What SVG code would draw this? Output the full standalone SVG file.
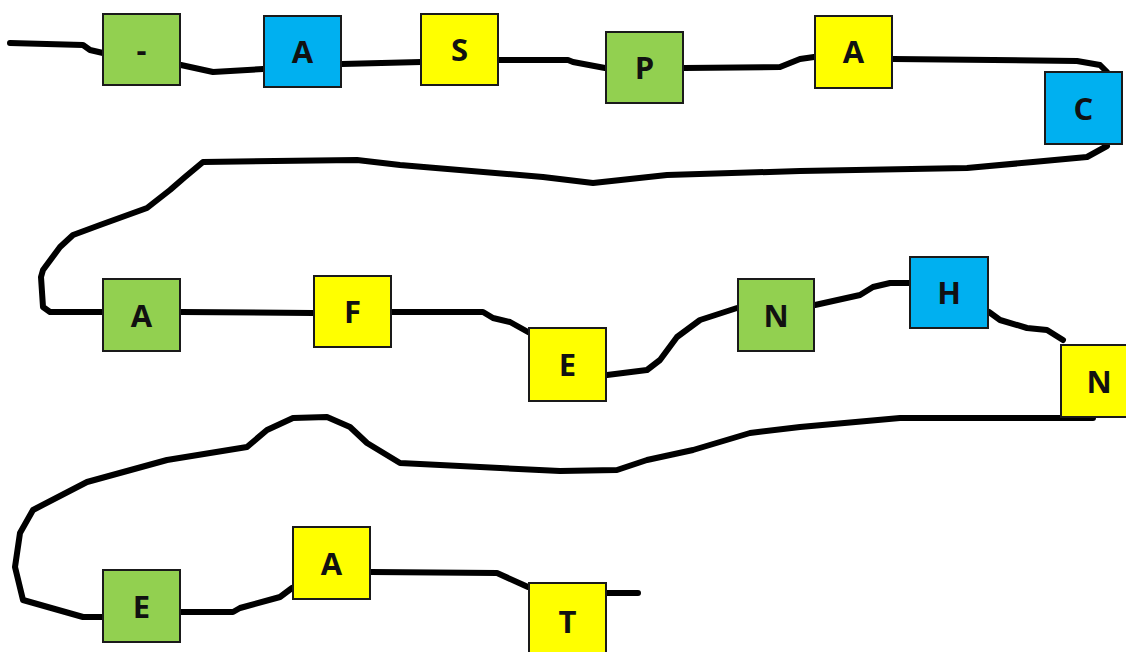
<svg xmlns="http://www.w3.org/2000/svg" width="1126" height="652" viewBox="0 0 1126 652">
<style>
.wire{fill:none;stroke:#000;stroke-width:6;stroke-linecap:round;stroke-linejoin:round}
.box{stroke:#1a1a1a;stroke-width:2}
.g{fill:#92d050}.b{fill:#00b0f0}.y{fill:#ffff00}
.t{font-family:"Open Sans","Liberation Sans",sans-serif;font-weight:bold;font-size:31px;fill:#111;text-anchor:middle}
</style>
<rect width="1126" height="652" fill="#fff"/>
<g id="connectors">
<path class="wire" d="M10,43 L83,45 L90,50 L103,53 M181,65 L213,72 L263,69 M342,64 L421,62 M499,60 L568,60 L573,62 L605,68 M684,68 L780,67 L800,59 L814,57 M893,59 L1077,61 L1100,65 L1107,72"/>
<path class="wire" d="M1107,146 L1087,157 L1033,162 L967,168 L800,171 L667,175 L593,183 L543,177 L400,165 L357,160 L203,162 L185,177 L170,190 L147,208 L100,225 L73,235 L60,247 L43,270 L41,277 L43,307 L50,312 L102,312 M181,312 L313,313 M392,312 L483,312 L493,318 L510,322 L528,332 M607,375 L647,370 L660,360 L677,337 L700,320 L737,308 M815,305 L860,295 L873,287 L890,283 L910,283 M989,312 L1000,320 L1027,328 L1047,330 L1063,340"/>
<path class="wire" d="M1093,418 L900,418 L800,427 L750,433 L693,450 L647,460 L617,470 L560,471 L400,463 L367,443 L350,427 L327,417 L293,418 L267,430 L247,447 L167,460 L87,482 L33,510 L20,533 L15,567 L23,600 L83,617 L102,617 M181,612 L233,612 L240,608 L280,597 L292,588 M371,572 L497,573 L528,587 M607,593 L638,593"/>
</g>
<g id="n1"><rect class="box g" x="103" y="14" width="77" height="71"/><text class="t" x="141.5" y="61">-</text></g>
<g id="n2"><rect class="box b" x="264" y="16" width="77" height="71"/><text class="t" x="302.5" y="63">A</text></g>
<g id="n3"><rect class="box y" x="421" y="14" width="77" height="71"/><text class="t" x="459.5" y="61">S</text></g>
<g id="n4"><rect class="box g" x="606" y="32" width="77" height="71"/><text class="t" x="644.5" y="79">P</text></g>
<g id="n5"><rect class="box y" x="815" y="16" width="77" height="72"/><text class="t" x="853.5" y="63">A</text></g>
<g id="n6"><rect class="box b" x="1045" y="72" width="77" height="72"/><text class="t" x="1083.5" y="120">C</text></g>
<g id="n7"><rect class="box g" x="103" y="279" width="77" height="72"/><text class="t" x="141.5" y="327">A</text></g>
<g id="n8"><rect class="box y" x="314" y="276" width="77" height="71"/><text class="t" x="352.5" y="323">F</text></g>
<g id="n9"><rect class="box y" x="529" y="328" width="77" height="73"/><text class="t" x="567.5" y="376">E</text></g>
<g id="n10"><rect class="box g" x="738" y="279" width="76" height="72"/><text class="t" x="776" y="327">N</text></g>
<g id="n11"><rect class="box b" x="910" y="257" width="78" height="71"/><text class="t" x="949" y="304">H</text></g>
<g id="n12"><rect class="box y" x="1061" y="345" width="70" height="72"/><text class="t" x="1099" y="393">N</text></g>
<g id="n13"><rect class="box g" x="103" y="570" width="77" height="72"/><text class="t" x="141.5" y="618">E</text></g>
<g id="n14"><rect class="box y" x="293" y="527" width="77" height="72"/><text class="t" x="331.5" y="575">A</text></g>
<g id="n15"><rect class="box y" x="529" y="583" width="77" height="75"/><text class="t" x="567.5" y="633">T</text></g>
</svg>
